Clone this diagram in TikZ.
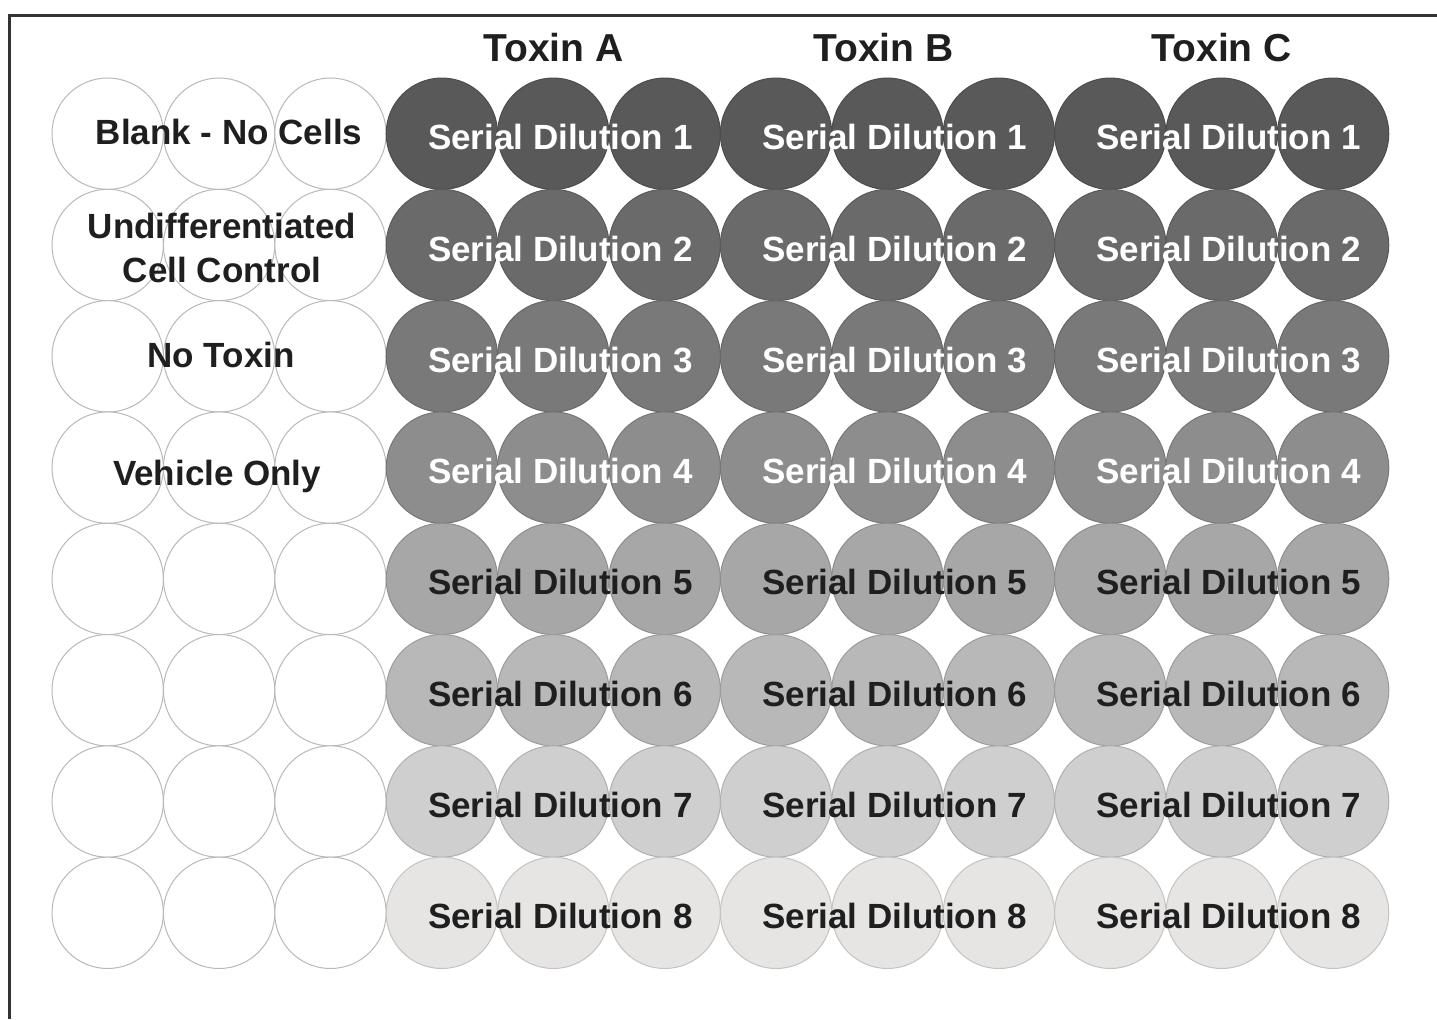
\documentclass[tikz,border=0pt]{standalone}
\usepackage{fontspec}
\setmainfont{Liberation Sans}
\usetikzlibrary{positioning}
\definecolor{dil-1}{HTML}{5A5959}
\definecolor{dil-2}{HTML}{6B6A6B}
\definecolor{dil-3}{HTML}{7A797A}
\definecolor{dil-4}{HTML}{8E8D8E}
\definecolor{dil-5}{HTML}{A8A7A8}
\definecolor{dil-6}{HTML}{B9B8B9}
\definecolor{dil-7}{HTML}{D0CFD0}
\definecolor{dil-8}{HTML}{E7E5E4}
\definecolor{ink}{HTML}{1F1F1F}
\definecolor{frame}{HTML}{333333}

\begin{document}
\begin{tikzpicture}[x=0.5pt, y=-0.5pt,
    well/.style={circle, draw, minimum size=55.7pt, inner sep=0pt, line width=0.5pt},
    lbl/.style={anchor=base, inner sep=0pt, text=ink, font=\fontsize{17.5}{22}\selectfont\bfseries},
    head/.style={anchor=base, inner sep=0pt, text=ink, font=\fontsize{19.5}{23}\selectfont\bfseries}]
  \useasboundingbox (0,0) rectangle (1437,1019);
  \fill[white] (0,0) rectangle (1437,1019);
  % plate edge, top and left only
  \draw[frame, line width=1.5pt] (9,1019) -- (9,15) -- (1437,15);
  % control wells
  \foreach \r in {1,...,8}
    \foreach \c in {1,2,3}
      \node[well, draw=gray!55, fill=white] (w-\r-\c) at ({107.7+111.4*(\c-1)}, {133.7+111.3*(\r-1)}) {};
  % toxin wells
  \foreach \r in {1,...,8}
    \foreach \c in {4,...,12}
      \node[well, draw=dil-\r!85!black, fill=dil-\r] (w-\r-\c) at ({107.7+111.4*(\c-1)}, {133.7+111.3*(\r-1)}) {};
  % dilution labels
  \foreach \r/\tc in {1/white,2/white,3/white,4/white,5/ink,6/ink,7/ink,8/ink}
    \foreach \t/\c in {A/5,B/8,C/11}
      \node[lbl, text=\tc] (sd-\t-\r) at ([xshift=3.5pt, yshift=-8pt]w-\r-\c.center) {Serial Dilution \r};
  % column heads
  \node[head] (tox-A) at ([yshift=8pt]w-1-5.north) {Toxin A};
  \node[head] (tox-B) at ([xshift=-2pt, yshift=8pt]w-1-8.north) {Toxin B};
  \node[head] (tox-C) at ([yshift=8pt]w-1-11.north) {Toxin C};
  % control labels
  \node[lbl] (blank) at ([xshift=5pt, yshift=-5.6pt]w-1-2.center) {Blank - No Cells};
  \node[lbl, align=center] (undiff) at ([xshift=1.5pt, yshift=-18.5pt]w-2-2.center) {Undifferentiated\\Cell Control};
  \node[lbl] (notox) at ([xshift=1pt, yshift=-5.8pt]w-3-2.center) {No Toxin};
  \node[lbl] (vehicle) at ([xshift=-1pt, yshift=-8.7pt]w-4-2.center) {Vehicle Only};
\end{tikzpicture}
\end{document}
